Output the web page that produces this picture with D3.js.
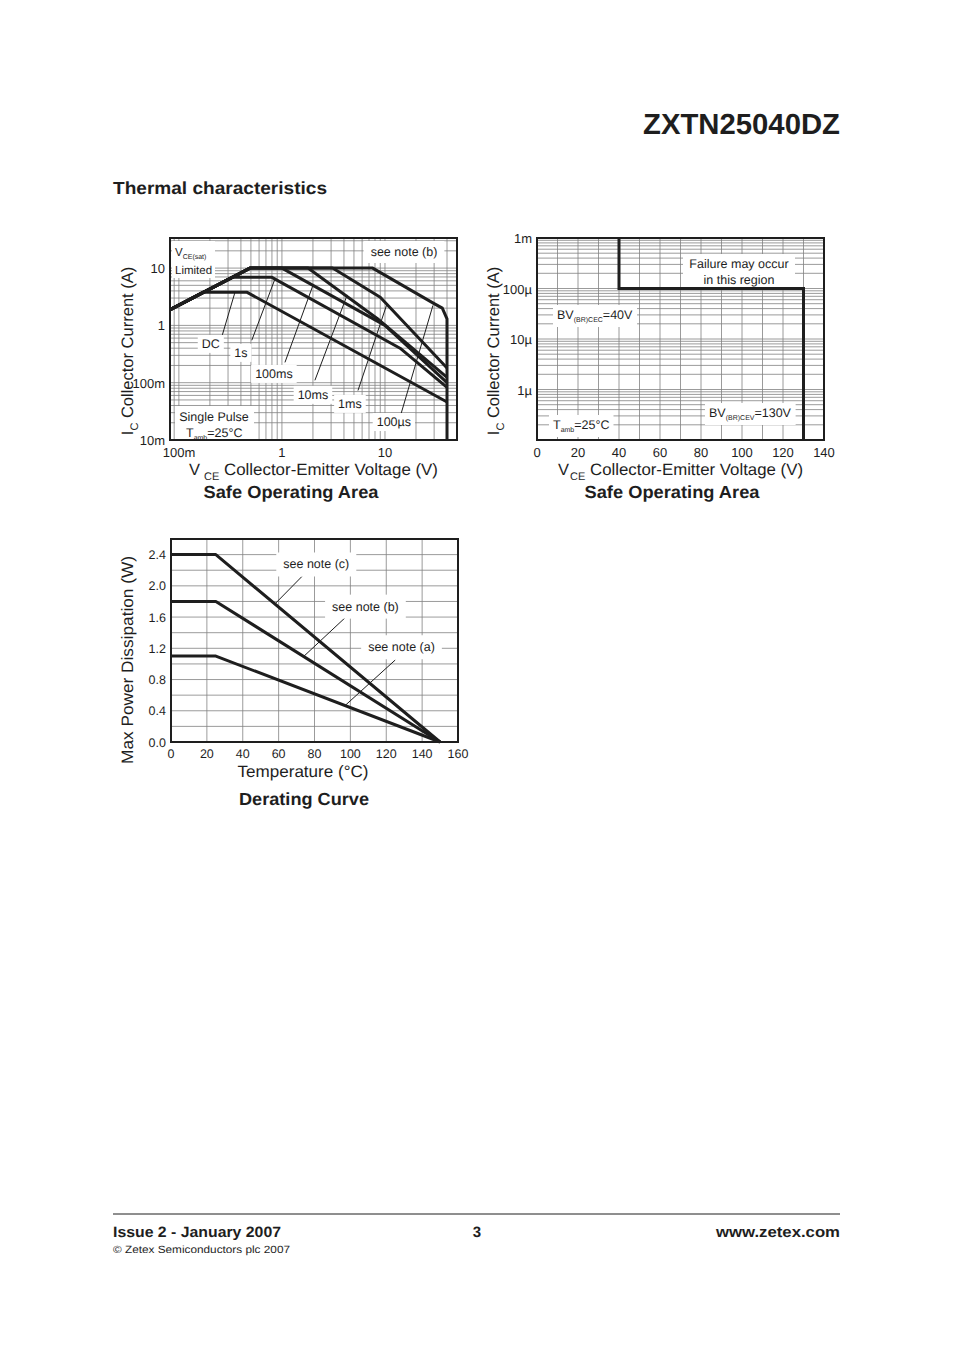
<!DOCTYPE html>
<html><head><meta charset="utf-8">
<script src="https://cdn.jsdelivr.net/npm/d3@7"></script>
<style>body{margin:0;background:#fff}svg{display:block}</style>
</head><body>
<script>
// ---------- DATA ----------
// Chart 1: Safe Operating Area (log-log), [VCE (V), IC (A)]
const soaVsat  = [[0.08,1.83],[0.49,10]];
const soaDC    = [[0.08,1.83],[0.17,3.77],[0.46,3.77],[40,0.046]];
const soa1s    = [[0.08,1.83],[0.33,6.9],[0.8,6.9],[14,0.4],[40,0.083]];
const soa100ms = [[0.08,1.83],[0.49,10],[1.0,10],[10,1.0],[40,0.1]];
const soa10ms  = [[0.08,1.83],[0.49,10],[1.79,10],[8.4,1.32],[40,0.124]];
const soa1ms   = [[0.08,1.83],[0.49,10],[3.1,10],[9,3.1],[40,0.18]];
const soa100us = [[0.08,1.83],[0.49,10],[7.6,10],[30,2.4],[36,2.0],[40,1.3],[40,0.01]];
const soaLeaders = [
  {label:"DC",    from:[0.26,0.62], to:[0.35,3.77]},
  {label:"1s",    from:[0.51,0.55], to:[0.86,6.6]},
  {label:"100ms", from:[1.07,0.226],to:[2.0,5.0]},
  {label:"10ms",  from:[2.09,0.11], to:[4.3,3.4]},
  {label:"1ms",   from:[5.47,0.073],to:[10.5,2.42]},
  {label:"100µs", from:[14,0.025],  to:[29.2,2.23]}
];
const soaLabelAt = {"DC":[0.204,0.485],"1s":[0.40,0.338],"100ms":[0.836,0.145],"10ms":[2.0,0.0626],"1ms":[4.57,0.0435],"100µs":[12.2,0.021]};
const soaXTicks = [[0.1,"100m"],[1,"1"],[10,"10"]];
const soaYTicks = [[10,"10"],[1,"1"],[0.1,"100m"],[0.01,"10m"]];

// Chart 2: Safe Operating Area (linear V, log I)
const bvBoundary = [[40,1e-3],[40,1e-4],[130,1e-4],[130,1e-7]];
const bvXTicks = [0,20,40,60,80,100,120,140];
const bvYTicks = [[1e-3,"1m"],[1e-4,"100µ"],[1e-5,"10µ"],[1e-6,"1µ"]];

// Chart 3: Derating curve, temperature (°C) vs power (W)
const derTemp = [0,25,150];
const derNoteC = [2.4,2.4,0];
const derNoteB = [1.8,1.8,0];
const derNoteA = [1.1,1.1,0];
const derLeaders = [
  {label:"see note (c)", from:[58,1.77], to:[73,2.12], at:[81,2.28]},
  {label:"see note (b)", from:[73.7,1.09], to:[97,1.59], at:[108.4,1.74]},
  {label:"see note (a)", from:[97.2,0.47], to:[125,1.05], at:[128.5,1.22]}
];
const derXTicks = [0,20,40,60,80,100,120,140,160];
const derYTicks = [0,0.4,0.8,1.2,1.6,2.0,2.4];

// ---------- DRAWING ----------
const FONT = "'Liberation Sans', Arial, Helvetica, sans-serif";
const INK = "#1e1e1e";
const svg = d3.select("body").append("svg").attr("width",954).attr("height",1351)
  .style("font-family",FONT).attr("text-rendering","geometricPrecision");
svg.append("rect").attr("width",954).attr("height",1351).attr("fill","#fff");

function rich(g, x, y, parts, o={}) {
  const size = o.size||12;
  const t = g.append("text").attr("x",x).attr("y",y).attr("font-size",size)
    .attr("text-anchor",o.anchor||"start").attr("font-weight",o.weight||"normal")
    .attr("fill",INK);
  if (o.transform) t.attr("transform",o.transform);
  let shifted = 0;
  parts.forEach(p => {
    const ts = t.append("tspan").text(p.t);
    if (p.sub) { const d = o.subDy || size*0.35; ts.attr("font-size", o.subSize || size*0.6).attr("dy", d-shifted); shifted = d; }
    else if (shifted) { ts.attr("dy", -shifted); shifted = 0; }
  });
  if (o.len) t.attr("textLength",o.len).attr("lengthAdjust","spacingAndGlyphs");
  return t;
}
function whiteBox(g, node, pad=[3,2]) {
  const b = node.node().getBBox();
  g.insert("rect", () => node.node()).attr("x",b.x-pad[0]).attr("y",b.y-pad[1])
    .attr("width",b.width+2*pad[0]).attr("height",b.height+2*pad[1]).attr("fill","#fff");
}
function logMinor(lo, hi) {
  const out=[];
  for (let e=Math.floor(Math.log10(lo)); e<=Math.ceil(Math.log10(hi)); e++)
    for (let m=1;m<10;m++){ const v=m*Math.pow(10,e); if(v>=lo*0.999&&v<=hi*1.001) out.push(v); }
  return out;
}
const GRID = "#828282";
const ANN = 12.5;

// Header
svg.append("text").attr("x",840).attr("y",134).attr("text-anchor","end").attr("font-size",29)
  .attr("font-weight","bold").attr("fill",INK).text("ZXTN25040DZ")
  .attr("textLength",197).attr("lengthAdjust","spacingAndGlyphs");
svg.append("text").attr("x",113).attr("y",194).attr("font-size",17.5).attr("font-weight","bold")
  .attr("fill",INK).text("Thermal characteristics").attr("textLength",214).attr("lengthAdjust","spacingAndGlyphs");

// ===== Chart 1 =====
{
  const g = svg.append("g");
  const L=170,R=457,T=238,B=440;
  const x = d3.scaleLog().domain([0.082,50]).range([L,R]);
  const y = d3.scaleLog().domain([0.01,33.5]).range([B,T]);
  const gg = g.append("g").attr("stroke",GRID).attr("stroke-width",0.8);
  logMinor(0.082,50).forEach(v=>gg.append("line").attr("x1",x(v)).attr("x2",x(v)).attr("y1",T).attr("y2",B));
  logMinor(0.01,33.5).forEach(v=>gg.append("line").attr("y1",y(v)).attr("y2",y(v)).attr("x1",L).attr("x2",R));
  g.append("clipPath").attr("id","c1").append("rect").attr("x",L).attr("y",T).attr("width",R-L).attr("height",B-T);
  const line = d3.line().x(d=>x(d[0])).y(d=>y(d[1]));
  const curves = g.append("g").attr("clip-path","url(#c1)");
  [soaVsat,soaDC,soa1s,soa100ms,soa10ms,soa1ms,soa100us].forEach(c=>
    curves.append("path").attr("d",line(c)).attr("fill","none").attr("stroke",INK)
      .attr("stroke-width",3).attr("stroke-linejoin","round"));
  soaLeaders.forEach(l=>{
    g.append("line").attr("x1",x(l.from[0])).attr("y1",y(l.from[1])).attr("x2",x(l.to[0])).attr("y2",y(l.to[1]))
      .attr("stroke",INK).attr("stroke-width",1);
  });
  soaLeaders.forEach(l=>{
    const p = soaLabelAt[l.label];
    const t = rich(g, x(p[0]), y(p[1])+4.5, [{t:l.label}], {size:ANN, anchor:"middle"});
    whiteBox(g,t,[4,2]);
  });
  const t1 = rich(g, 175, 256, [{t:"V"},{t:"CE(sat)",sub:true}], {size:11.5, subSize:7, subDy:3});
  rich(g, 175, 274, [{t:"Limited"}], {size:11.5});
  g.insert("rect",()=>t1.node()).attr("x",172).attr("y",241).attr("width",43).attr("height",37).attr("fill","#fff");
  const sn = rich(g, 404, 256, [{t:"see note (b)"}], {size:ANN, anchor:"middle"});
  whiteBox(g,sn,[7,4]);
  g.insert("rect",()=>t1.node()).attr("x",175).attr("y",406).attr("width",79).attr("height",34).attr("fill","#fff");
  rich(g, 214, 421, [{t:"Single Pulse"}], {size:ANN, anchor:"middle"});
  rich(g, 186, 437, [{t:"T"},{t:"amb",sub:true},{t:"=25°C"}], {size:ANN, subSize:7, subDy:3});
  g.append("rect").attr("x",L).attr("y",T).attr("width",R-L).attr("height",B-T)
    .attr("fill","none").attr("stroke",INK).attr("stroke-width",2);
  soaXTicks.forEach(([v,s])=>rich(g, v===0.1?179:x(v), 457, [{t:s}], {size:13, anchor:"middle"}));
  soaYTicks.forEach(([v,s])=>rich(g, 165, y(v)+5, [{t:s}], {size:13, anchor:"end"}));
  rich(g, 189, 475, [{t:"V"}], {size:16.5});
  rich(g, 204, 480, [{t:"CE"}], {size:11});
  rich(g, 224, 475, [{t:"Collector-Emitter Voltage (V)"}], {size:16.5, len:214});
  rich(g, 291, 498, [{t:"Safe Operating Area"}], {size:17.5, weight:"bold", anchor:"middle", len:175});
  rich(g, 0, 0, [{t:"I"},{t:"C",sub:true},{t:" Collector Current (A)"}],
    {size:16.5, subSize:11, subDy:5, anchor:"middle", transform:"translate(133,351) rotate(-90)"});
}

// ===== Chart 2 =====
{
  const g = svg.append("g");
  const L=537,R=824,T=238,B=440;
  const x = d3.scaleLinear().domain([0,140]).range([L,R]);
  const y = d3.scaleLog().domain([1e-7,1e-3]).range([B,T]);
  const gg = g.append("g").attr("stroke",GRID).attr("stroke-width",0.8);
  d3.range(10,140,10).forEach(v=>gg.append("line").attr("x1",x(v)).attr("x2",x(v)).attr("y1",T).attr("y2",B));
  logMinor(1e-7,1e-3).forEach(v=>gg.append("line").attr("y1",y(v)).attr("y2",y(v)).attr("x1",L).attr("x2",R));
  const line = d3.line().x(d=>x(d[0])).y(d=>y(d[1]));
  const f1 = rich(g, 739, 268, [{t:"Failure may occur"}], {size:ANN, anchor:"middle"});
  rich(g, 739, 284, [{t:"in this region"}], {size:ANN, anchor:"middle"});
  g.insert("rect",()=>f1.node()).attr("x",683).attr("y",254).attr("width",112).attr("height",33).attr("fill","#fff");
  g.append("path").attr("d",line(bvBoundary)).attr("fill","none").attr("stroke",INK).attr("stroke-width",3);
  const b1 = rich(g, 557, 319, [{t:"BV"},{t:"(BR)CEC",sub:true},{t:"=40V"}], {size:12.5, subSize:7, subDy:3});
  whiteBox(g,b1,[4,3]);
  const b2 = rich(g, 709, 417, [{t:"BV"},{t:"(BR)CEV",sub:true},{t:"=130V"}], {size:12.5, subSize:7, subDy:3});
  whiteBox(g,b2,[4,3]);
  const b3 = rich(g, 553, 429, [{t:"T"},{t:"amb",sub:true},{t:"=25°C"}], {size:12.5, subSize:7, subDy:3});
  whiteBox(g,b3,[4,3]);
  g.append("rect").attr("x",L).attr("y",T).attr("width",R-L).attr("height",B-T)
    .attr("fill","none").attr("stroke",INK).attr("stroke-width",2);
  bvXTicks.forEach(v=>rich(g, x(v), 457, [{t:String(v)}], {size:13, anchor:"middle"}));
  bvYTicks.forEach(([v,s])=>rich(g, 532, y(v)+5, [{t:s}], {size:13, anchor:"end"}));
  rich(g, 558, 475, [{t:"V"}], {size:16.5});
  rich(g, 570, 480, [{t:"CE"}], {size:11});
  rich(g, 590, 475, [{t:"Collector-Emitter Voltage (V)"}], {size:16.5, len:213});
  rich(g, 672, 498, [{t:"Safe Operating Area"}], {size:17.5, weight:"bold", anchor:"middle", len:175});
  rich(g, 0, 0, [{t:"I"},{t:"C",sub:true},{t:" Collector Current (A)"}],
    {size:16.5, subSize:11, subDy:5, anchor:"middle", transform:"translate(499,351) rotate(-90)"});
}

// ===== Chart 3 =====
{
  const g = svg.append("g");
  const L=171,R=458,T=539,B=742;
  const x = d3.scaleLinear().domain([0,160]).range([L,R]);
  const y = d3.scaleLinear().domain([0,2.6]).range([B,T]);
  const gg = g.append("g").attr("stroke",GRID).attr("stroke-width",0.8);
  d3.range(20,160,20).forEach(v=>gg.append("line").attr("x1",x(v)).attr("x2",x(v)).attr("y1",T).attr("y2",B));
  d3.range(1,13).map(i=>i*0.2).forEach(v=>gg.append("line").attr("y1",y(v)).attr("y2",y(v)).attr("x1",L).attr("x2",R));
  const line = d3.line().x(d=>x(d[0])).y(d=>y(d[1]));
  derLeaders.forEach(l=>{
    g.append("line").attr("x1",x(l.from[0])).attr("y1",y(l.from[1])).attr("x2",x(l.to[0])).attr("y2",y(l.to[1]))
      .attr("stroke",INK).attr("stroke-width",1);
    const t = rich(g, x(l.at[0]), y(l.at[1])+4.5, [{t:l.label}], {size:ANN, anchor:"middle"});
    whiteBox(g,t,[7,5]);
  });
  [derNoteC,derNoteB,derNoteA].forEach(s=>
    g.append("path").attr("d",line(derTemp.map((t,i)=>[t,s[i]]))).attr("fill","none")
      .attr("stroke",INK).attr("stroke-width",3).attr("stroke-linejoin","round"));
  g.append("rect").attr("x",L).attr("y",T).attr("width",R-L).attr("height",B-T)
    .attr("fill","none").attr("stroke",INK).attr("stroke-width",2);
  derXTicks.forEach(v=>rich(g, x(v), 758, [{t:String(v)}], {size:12.5, anchor:"middle"}));
  derYTicks.forEach(v=>rich(g, 166, y(v)+4.5, [{t:v.toFixed(1)}], {size:12.5, anchor:"end"}));
  rich(g, 303, 777, [{t:"Temperature (°C)"}], {size:16.5, anchor:"middle", len:131});
  rich(g, 304, 805, [{t:"Derating Curve"}], {size:17.5, weight:"bold", anchor:"middle", len:130});
  rich(g, 0, 0, [{t:"Max Power Dissipation (W)"}],
    {size:16.5, anchor:"middle", transform:"translate(133,660) rotate(-90)", len:208});
}

// Footer
svg.append("line").attr("x1",113).attr("x2",840).attr("y1",1214).attr("y2",1214).attr("stroke",INK).attr("stroke-width",1);
rich(svg, 113, 1237, [{t:"Issue 2 - January 2007"}], {size:15, weight:"bold", len:168});
rich(svg, 477, 1237, [{t:"3"}], {size:15, weight:"bold", anchor:"middle"});
rich(svg, 840, 1237, [{t:"www.zetex.com"}], {size:15, weight:"bold", anchor:"end", len:124});
rich(svg, 113, 1253, [{t:"© Zetex Semiconductors plc 2007"}], {size:10.5, len:177});
</script>
</body></html>
